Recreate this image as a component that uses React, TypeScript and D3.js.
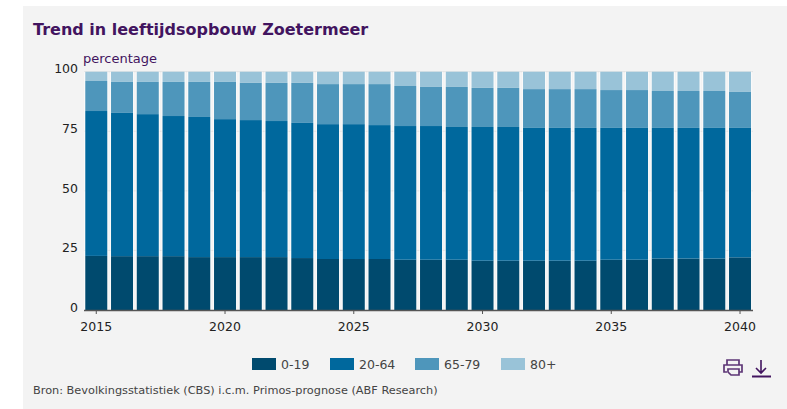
import { useEffect, useRef } from 'react'
import * as d3 from 'd3'

const YEARS = d3.range(2015, 2041)
const AGE_GROUPS = ['0-19', '20-64', '65-79', '80+']
const COLORS = ['#004a6e', '#00689d', '#4e96bb', '#99c3d8']
const Y_TICKS = [0, 25, 50, 75, 100]
const X_TICKS = [2015, 2020, 2025, 2030, 2035, 2040]

// Shares per age group, percent of the population, 2015 -> 2040
const AGE_0_19 = [
  22.7, 22.6, 22.6, 22.6, 22.2, 22.2, 22.2, 22.2, 21.8, 21.4, 21.4, 21.4, 21.1,
  21.1, 21.1, 20.7, 20.7, 20.7, 20.7, 20.7, 21.1, 21.1, 21.6, 21.6, 21.6, 22.1,
]
const AGE_20_64 = [
  60.8, 60.1, 59.6, 58.8, 58.8, 57.9, 57.5, 57.1, 56.7, 56.6, 56.6, 56.2, 56.1,
  56.1, 55.7, 56.1, 56.1, 55.7, 55.7, 55.7, 55.3, 55.3, 54.8, 54.8, 54.8, 54.3,
]
const AGE_65_79 = [
  12.6, 13.0, 13.5, 14.3, 14.7, 15.6, 15.6, 16.0, 16.8, 16.8, 16.8, 17.2, 16.8,
  16.4, 16.8, 16.4, 16.4, 16.3, 16.3, 16.3, 15.9, 15.9, 15.5, 15.5, 15.5, 15.1,
]
const AGE_80_PLUS = [
  3.9, 4.3, 4.3, 4.3, 4.3, 4.3, 4.7, 4.7, 4.7, 5.2, 5.2, 5.2, 6.0,
  6.4, 6.4, 6.8, 6.8, 7.3, 7.3, 7.3, 7.7, 7.7, 8.1, 8.1, 8.1, 8.5,
]

const SERIES = [AGE_0_19, AGE_20_64, AGE_65_79, AGE_80_PLUS]
const FONT = '"DejaVu Sans", Verdana, sans-serif'
const PURPLE = '#42145f'

export default function App() {
  const svgRef = useRef<SVGSVGElement>(null)

  useEffect(() => {
    if (!svgRef.current) return
    const svg = d3.select(svgRef.current)
    svg.selectAll('*').remove()

    const x = d3.scaleBand<number>().domain(YEARS).range([83.4, 752.9]).paddingInner(0.146).paddingOuter(0.073)
    const y = d3.scaleLinear().domain([0, 100]).range([310, 71.7])

    // ---- Panel ----
    svg.append('rect').attr('x', 23).attr('y', 6).attr('width', 764).attr('height', 403).attr('fill', '#f3f3f3')

    svg.append('text')
      .attr('x', 33).attr('y', 35)
      .attr('font-family', FONT).attr('font-size', 16).attr('font-weight', 700)
      .attr('fill', PURPLE)
      .text('Trend in leeftijdsopbouw Zoetermeer')

    svg.append('text')
      .attr('x', 83).attr('y', 63)
      .attr('font-family', FONT).attr('font-size', 13)
      .attr('fill', PURPLE)
      .text('percentage')

    // ---- Grid + y labels ----
    svg.append('g').selectAll('line')
      .data(Y_TICKS.filter((d) => d > 0))
      .join('line')
      .attr('x1', 84).attr('x2', 753)
      .attr('y1', (d) => y(d)).attr('y2', (d) => y(d))
      .attr('stroke', '#e0e0e0').attr('stroke-width', 1)

    svg.append('g').selectAll('text')
      .data(Y_TICKS)
      .join('text')
      .attr('x', 78).attr('y', (d) => y(d) + 1.7)
      .attr('text-anchor', 'end')
      .attr('font-family', FONT).attr('font-size', 12.5)
      .attr('fill', '#222')
      .text((d) => d)

    // ---- Pale halo in the gaps between the bars ----
    svg.append('g').selectAll('rect')
      .data(YEARS)
      .join('rect')
      .attr('x', (d) => (x(d) as number) - 1.2)
      .attr('width', x.bandwidth() + 2.4)
      .attr('y', y(100))
      .attr('height', y(0) - y(100))
      .attr('fill', '#fff')
      .attr('opacity', 0.6)

    // ---- Stacked bars ----
    const rows = YEARS.map((year, i) => {
      const row: Record<string, number> = { year }
      AGE_GROUPS.forEach((g, k) => { row[g] = SERIES[k][i] })
      return row
    })
    const stacked = d3.stack<Record<string, number>>().keys(AGE_GROUPS)(rows)

    svg.append('g')
      .selectAll('g')
      .data(stacked)
      .join('g')
      .attr('fill', (_, i) => COLORS[i])
      .selectAll('rect')
      .data((s) => s)
      .join('rect')
      .attr('x', (d) => x(d.data.year) as number)
      .attr('width', x.bandwidth())
      .attr('y', (d) => y(d[1]))
      .attr('height', (d) => y(d[0]) - y(d[1]))

    // ---- X axis ----
    svg.append('line')
      .attr('x1', 84).attr('x2', 753)
      .attr('y1', 310.5).attr('y2', 310.5)
      .attr('stroke', '#555').attr('stroke-width', 1.5)

    const xTicks = svg.append('g').selectAll('g')
      .data(X_TICKS)
      .join('g')
      .attr('transform', (d) => `translate(${(x(d) as number) + x.bandwidth() / 2},0)`)
    xTicks.append('line')
      .attr('y1', 311).attr('y2', 314)
      .attr('stroke', '#555')
    xTicks.append('text')
      .attr('y', 331)
      .attr('text-anchor', 'middle')
      .attr('font-family', FONT).attr('font-size', 12.5)
      .attr('fill', '#222')
      .text((d) => d)

    // ---- Legend ----
    const legendX = [252, 330, 415, 501]
    const legend = svg.append('g').selectAll('g')
      .data(AGE_GROUPS)
      .join('g')
      .attr('transform', (_, i) => `translate(${legendX[i]},358)`)
    legend.append('rect')
      .attr('width', 24).attr('height', 12)
      .attr('fill', (_, i) => COLORS[i])
    legend.append('text')
      .attr('x', 29).attr('y', 11)
      .attr('font-family', FONT).attr('font-size', 12.5)
      .attr('fill', '#444')
      .text((d) => d)

    // ---- Source ----
    svg.append('text')
      .attr('x', 33).attr('y', 394)
      .attr('font-family', FONT).attr('font-size', 11.3)
      .attr('fill', '#444')
      .text('Bron: Bevolkingsstatistiek (CBS) i.c.m. Primos-prognose (ABF Research)')

    // ---- Print + download icons ----
    const icons = svg.append('g').attr('fill', 'none').attr('stroke', PURPLE)
    icons.append('path')
      .attr('stroke-width', 1.7)
      .attr('stroke-opacity', 0.85)
      .attr('d', 'M727 365 V360 H739 V365 M727 372 H724 V365 H742 V372 H739 M728 369 H739 V375 H731 L728 372 Z')
    icons.append('path').attr('stroke-width', 1.6).attr('d', 'M761 360 V373 M756 368 L761 373 L766 368')
    icons.append('path').attr('stroke-width', 2).attr('d', 'M752 376.5 H771')
  }, [])

  return (
    <svg
      ref={svgRef}
      width={787}
      height={409}
      style={{ position: 'absolute', left: 0, top: 0, background: '#fff' }}
    />
  )
}
